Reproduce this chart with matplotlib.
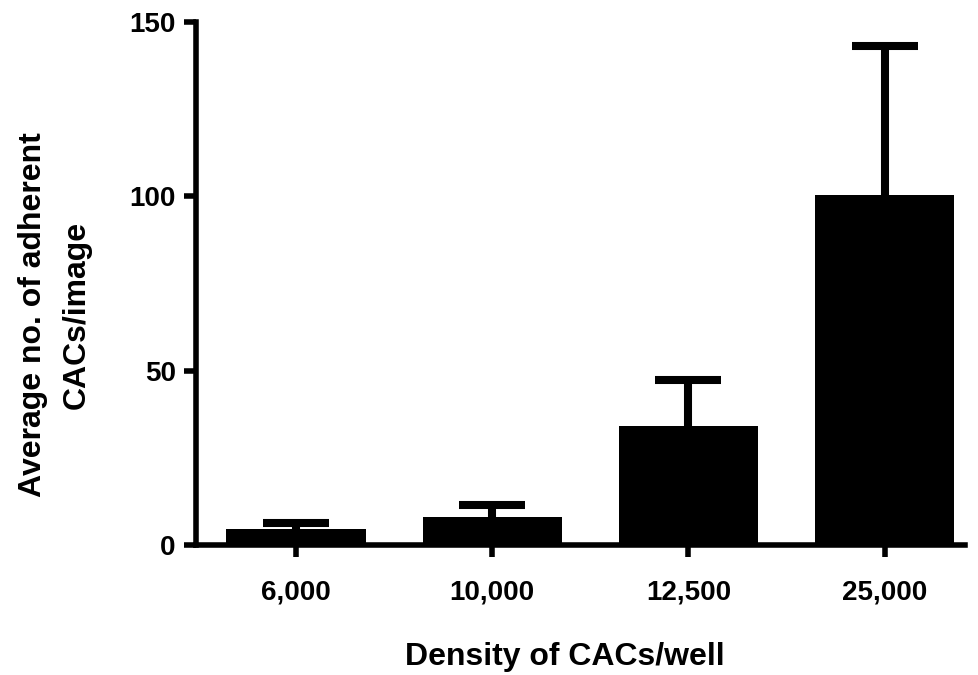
import numpy as np
import matplotlib
matplotlib.use("Agg")
from matplotlib import pyplot as plt

densities = ["6,000", "10,000", "12,500", "25,000"]
mean_cells = [4.5, 8.0, 34.0, 100.5]
err_cells = [1.7, 3.4, 13.2, 42.5]

plt.rcParams['font.family'] = ['Liberation Sans', 'DejaVu Sans']
plt.rcParams['font.weight'] = 'bold'


def plot_density_bars():
    fig = plt.figure(figsize=(9.79, 6.75), dpi=100)
    ax = fig.add_axes([0.2002, 0.1926, 0.7855, 0.7748])

    x = np.arange(len(densities))
    ax.bar(x, mean_cells, width=0.71, color='black', zorder=2)
    # upper error only: hide the lower cap line
    _, caps, _ = ax.errorbar(x, mean_cells,
                             yerr=[np.zeros(len(x)), err_cells],
                             fmt='none', ecolor='black', elinewidth=5.8,
                             capsize=23.5, capthick=5.8, zorder=1)
    caps[0].set_visible(False)

    ax.set_xlim(-0.51, 3.41)
    ax.set_ylim(0, 150)
    ax.set_yticks([0, 50, 100, 150])
    ax.set_xticks(x)
    ax.set_xticklabels(densities)

    for side in ['top', 'right']:
        ax.spines[side].set_visible(False)
    for side in ['left', 'bottom']:
        ax.spines[side].set_linewidth(4)
    ax.tick_params(axis='both', width=4, length=8.5, labelsize=20, pad=6)
    ax.tick_params(axis='x', pad=16)

    ax.set_xlabel("Density of CACs/well", fontsize=23, fontweight='bold',
                  va='center')
    ax.xaxis.set_label_coords(0.48, -0.214)
    ax.set_ylabel("Average no. of adherent\nCACs/image", fontsize=23,
                  fontweight='bold', linespacing=1.6, va='center')
    ax.yaxis.set_label_coords(-0.184, 0.44)

    fig.savefig("out.png", dpi=100)


if __name__ == '__main__':
    plot_density_bars()
